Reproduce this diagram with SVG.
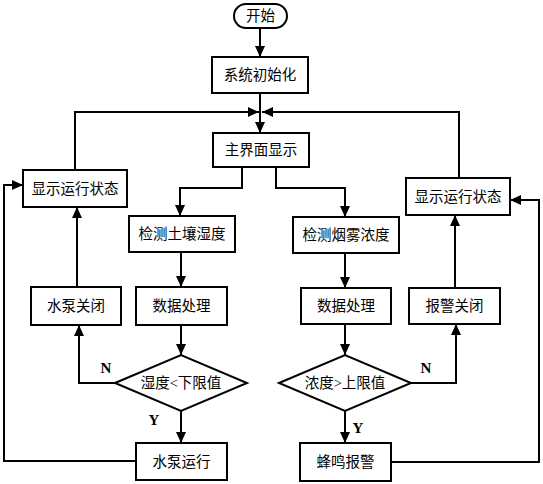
<svg xmlns="http://www.w3.org/2000/svg" width="543" height="484" viewBox="0 0 543 484">
<style>
.box{fill:#fff;stroke:#000;stroke-width:2}
.t{font-family:"Liberation Serif","Noto Sans CJK SC",serif;font-size:14.5px;fill:#000;text-anchor:middle;dominant-baseline:central}
.l{font-family:"Liberation Serif",serif;font-size:15px;font-weight:bold;fill:#000;text-anchor:middle;dominant-baseline:central}
.c{fill:none;stroke:#000;stroke-width:2}
</style>
<defs>
<marker id="a" markerUnits="userSpaceOnUse" markerWidth="12" markerHeight="12" refX="11" refY="5" orient="auto" viewBox="0 0 12 10">
<path d="M0,0 L11,5 L0,10 Z" fill="#000"/>
</marker>
</defs>
<rect width="543" height="484" fill="#fff"/>
<g id="connectors">
<path class="c" d="M260,28 V57" marker-end="url(#a)"/>
<path class="c" d="M260,93 V133" marker-end="url(#a)"/>
<path class="c" d="M75,170 V112 H259" marker-end="url(#a)"/>
<path class="c" d="M459,178 V112 H262" marker-end="url(#a)"/>
<path class="c" d="M242,167 V188 H180 V216" marker-end="url(#a)"/>
<path class="c" d="M276,167 V188 H345 V217" marker-end="url(#a)"/>
<path class="c" d="M181,252 V287" marker-end="url(#a)"/>
<path class="c" d="M345,253 V288" marker-end="url(#a)"/>
<path class="c" d="M181,325 V355" marker-end="url(#a)"/>
<path class="c" d="M345,324 V355" marker-end="url(#a)"/>
<path class="c" d="M115,383 H79 V325" marker-end="url(#a)"/>
<path class="c" d="M77,287 V207" marker-end="url(#a)"/>
<path class="c" d="M181,411 V443" marker-end="url(#a)"/>
<path class="c" d="M136,461 H4 V185 H23" marker-end="url(#a)"/>
<path class="c" d="M411,383 H456 V324" marker-end="url(#a)"/>
<path class="c" d="M455,288 V215" marker-end="url(#a)"/>
<path class="c" d="M345,411 V443" marker-end="url(#a)"/>
<path class="c" d="M391,462 H539 V200 H510" marker-end="url(#a)"/>
<text class="l" x="106" y="368">N</text>
<text class="l" x="154" y="420">Y</text>
<text class="l" x="426" y="368">N</text>
<text class="l" x="358" y="428">Y</text>
</g>
<g id="start"><rect class="box" x="234" y="4" width="53" height="24" rx="12"/><text class="t" x="260.5" y="16">开始</text></g>
<g id="init"><rect class="box" x="212" y="57" width="96" height="36"/><text class="t" x="260" y="75">系统初始化</text></g>
<g id="main"><rect class="box" x="213" y="133" width="96" height="34"/><text class="t" x="261" y="150">主界面显示</text></g>
<g id="showL"><rect class="box" x="23" y="170" width="104" height="37"/><text class="t" x="75" y="188.5">显示运行状态</text></g>
<g id="soil"><rect class="box" x="129" y="216" width="106" height="36"/><text class="t" x="182" y="234">检测土壤湿度</text></g>
<g id="smoke"><rect class="box" x="293" y="217" width="106" height="36"/><text class="t" x="346" y="235">检测烟雾浓度</text></g>
<g id="showR"><rect class="box" x="406" y="178" width="104" height="37"/><text class="t" x="458" y="196.5">显示运行状态</text></g>
<g id="pumpOff"><rect class="box" x="31" y="287" width="90" height="38"/><text class="t" x="76" y="306">水泵关闭</text></g>
<g id="procL"><rect class="box" x="136" y="287" width="91" height="38"/><text class="t" x="181.5" y="306">数据处理</text></g>
<g id="procR"><rect class="box" x="301" y="288" width="90" height="36"/><text class="t" x="346" y="306">数据处理</text></g>
<g id="alarmOff"><rect class="box" x="409" y="288" width="91" height="36"/><text class="t" x="454.5" y="306">报警关闭</text></g>
<g id="decL"><polygon class="box" points="115,383 181,355 247,383 181,411"/><text class="t" x="181" y="383">湿度&lt;下限值</text></g>
<g id="decR"><polygon class="box" points="279,383 345,355 411,383 345,411"/><text class="t" x="345" y="383">浓度&gt;上限值</text></g>
<g id="pumpOn"><rect class="box" x="136" y="443" width="91" height="37"/><text class="t" x="181.5" y="461.5">水泵运行</text></g>
<g id="buzz"><rect class="box" x="300" y="443" width="91" height="38"/><text class="t" x="345.5" y="462">蜂鸣报警</text></g>
</svg>
